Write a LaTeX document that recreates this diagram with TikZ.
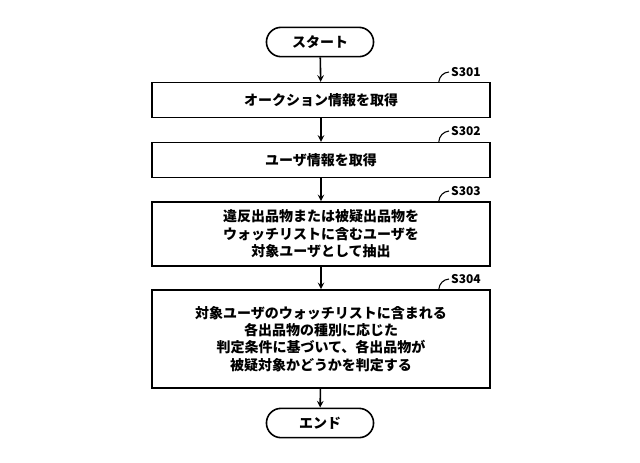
\documentclass[tikz,border=0pt]{standalone}
\usepackage{fontspec}
\setmainfont{Noto Sans CJK JP}
\usetikzlibrary{positioning,shapes.misc,calc}

\begin{document}
\begin{tikzpicture}[->,>=stealth,x=0.75pt,y=-0.75pt,very thick,
    step box/.style={draw,rectangle,minimum width=253.5pt,align=center,font=\fontsize{10.5}{13}\selectfont\bfseries,inner sep=2pt},
    term node/.style={draw,rounded rectangle,minimum width=87pt,minimum height=22pt,font=\fontsize{10.5}{13}\selectfont\bfseries},
    step label/.style={font=\fontsize{9}{11}\selectfont\bfseries,anchor=west,inner sep=1pt}]
    \useasboundingbox (0,0) rectangle (640,462);

    \node[term node] (start) at (320,42) {スタート};
    \node[step box,minimum height=26pt] (s301) at (321,100) {オークション情報を取得};
    \node[step box,minimum height=26pt] (s302) at (321,160) {ユーザ情報を取得};
    \node[step box,minimum height=48pt] (s303) at (321,234) {違反出品物または被疑出品物を\\ウォッチリストに含むユーザを\\対象ユーザとして抽出};
    \node[step box,minimum height=73.5pt] (s304) at (321,339) {対象ユーザのウォッチリストに含まれる\\各出品物の種別に応じた\\判定条件に基づいて、各出品物が\\被疑対象かどうかを判定する};
    \node[term node] (end) at (320,423) {エンド};

    % step numbers
    \foreach \s/\y in {s301/72,s302/131,s303/191,s304/279}{
        \node[step label] (\s-l) at (449,\y) {\MakeUppercase{\s}};
        \coordinate (\s-c) at ($(\s.north east)+(-52,0)$);
        \draw[-,thick] (\s-c) to[bend left=40] (\s-l.west);
    }

    \path
        (start) edge (s301)
        (s301) edge (s302)
        (s302) edge (s303)
        (s303) edge (s304)
        (s304) edge (end)
    ;
\end{tikzpicture}
\end{document}
